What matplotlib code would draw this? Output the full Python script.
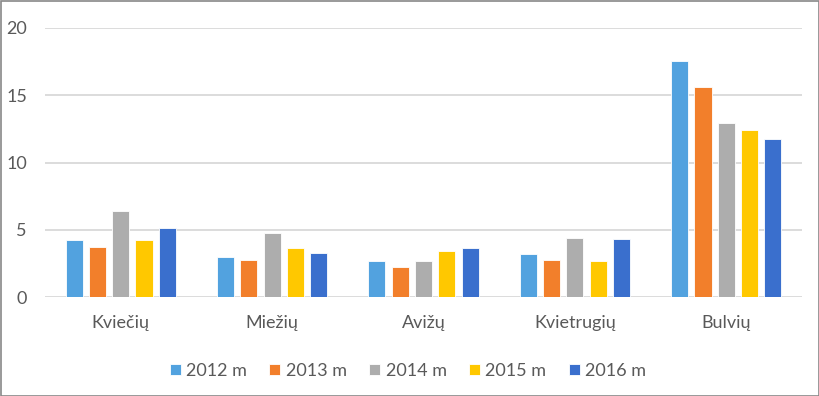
import matplotlib
matplotlib.use("Agg")
import matplotlib.pyplot as plt
import numpy as np
from matplotlib.patches import Rectangle

categories = ["Kviečių", "Miežių", "Avižų", "Kvietrugių", "Bulvių"]
series_names = ["2012 m", "2013 m", "2014 m", "2015 m", "2016 m"]
v2012 = [4.24, 3.0, 2.67, 3.19, 17.56]
v2013 = [3.75, 2.75, 2.25, 2.77, 15.63]
v2014 = [6.42, 4.75, 2.67, 4.36, 12.9]
v2015 = [4.24, 3.67, 3.42, 2.7, 12.4]
v2016 = [5.1, 3.25, 3.67, 4.29, 11.74]
series = [v2012, v2013, v2014, v2015, v2016]
colors = ["#52A2DF", "#F27F2B", "#ADADAD", "#FFC800", "#3A6FCD"]
yticks = [0, 5, 10, 15, 20]

plt.rcParams['font.family'] = ['Lato', 'DejaVu Sans']
fig = plt.figure(figsize=(8.2, 3.96), dpi=100)
ax = fig.add_axes([45/820, 1-297/396, (802-45)/820, (297-28)/396])

x = np.arange(len(categories))
step = 0.154
bw = 0.1125
for i, (vals, c, name) in enumerate(zip(series, colors, series_names)):
    ax.bar(x + (i-2)*step, vals, width=bw, color=c, edgecolor='white', linewidth=0.6,
           label=name, zorder=3)

ax.set_xlim(-0.5, len(categories)-0.5)
ax.set_ylim(0, 20)
ax.set_yticks(yticks)
ax.set_yticklabels([str(t) for t in yticks])
ax.set_xticks(x)
ax.set_xticklabels(categories)
ax.grid(axis='y', color='#D9D9D9', linewidth=1.3, zorder=0)
ax.tick_params(axis='both', length=0, labelsize=13, labelcolor='#595959')
ax.tick_params(axis='x', pad=13)
ax.tick_params(axis='y', pad=13)
for s in ax.spines.values():
    s.set_visible(False)

leg = fig.legend(loc='center', bbox_to_anchor=(408/820, 1-371/396), ncol=5, frameon=False,
                 fontsize=13, handlelength=0.6, handleheight=0.6, handletextpad=0.3,
                 columnspacing=1.25, labelcolor='#595959')

fig.patches.append(Rectangle((0.5/820, 0.5/396), 1-1.5/820, 1-1.5/396, transform=fig.transFigure,
                             fill=False, edgecolor='#888888', linewidth=1.2))
fig.savefig("out.png", dpi=100)
